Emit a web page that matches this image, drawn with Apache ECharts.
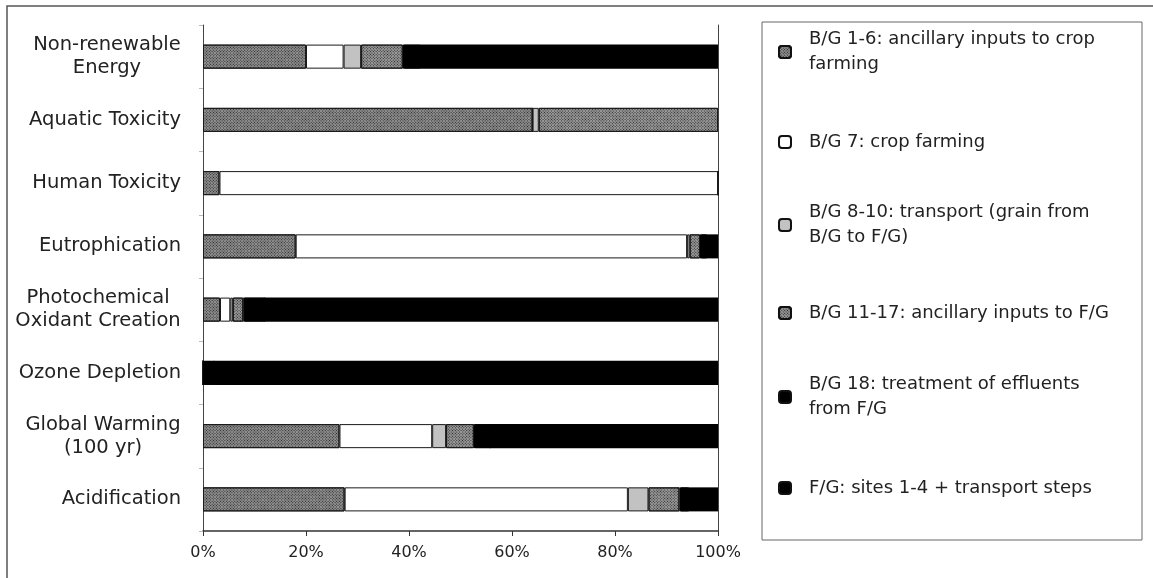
<!DOCTYPE html>
<html>
<head>
<meta charset="utf-8">
<script src="https://cdn.jsdelivr.net/npm/echarts@6/dist/echarts.min.js"></script>
<style>
html,body{margin:0;padding:0;background:#fff;}
#chart{width:1153px;height:578px;}
</style>
</head>
<body>
<div id="chart"></div>
<script>
// ---- data ----
const categories = ['Non-renewable\nEnergy', 'Aquatic Toxicity', 'Human Toxicity', 'Eutrophication',
  'Photochemical\nOxidant Creation', 'Ozone Depletion', 'Global Warming\n(100 yr)', 'Acidification'];
const seriesNames = [
  'B/G 1-6: ancillary inputs to crop\nfarming',
  'B/G 7: crop farming',
  'B/G 8-10: transport (grain from\nB/G to F/G)',
  'B/G 11-17: ancillary inputs to F/G',
  'B/G 18: treatment of effluents\nfrom F/G',
  'F/G: sites 1-4 + transport steps'
];
const bg1_6   = [20,   64,   3.2,  18,   3.3, 0,  26.5, 27.5];
const bg7     = [7.3,  0,    96.8, 76,   2,   0,  18,   55];
const bg8_10  = [3.4,  1.2,  0,    0.5,  0.5, 0,  2.7,  4];
const bg11_17 = [8.1,  34.8, 0,    2,    2,   0,  5.4,  6];
const bg18    = [3,    0,    0,    1,    4,   2,  3,    1.5];
const fg      = [58.2, 0,    0,    2.5,  88.2, 98, 44.4, 6];
const xTicks = [0, 20, 40, 60, 80, 100];
const seriesData = [bg1_6, bg7, bg8_10, bg11_17, bg18, fg];

// ---- styles ----
const FONT = '"DejaVu Sans", sans-serif';
const TXT = '#222';
const hatch = (base) => ({
  color: base,
  borderColor: '#1a1a1a',
  borderWidth: 1,
  decal: {symbol: 'rect', symbolSize: 1, dashArrayX: [1, 1], dashArrayY: [1, 1], rotation: Math.PI / 4, color: '#262626'}
});
const itemStyles = [
  hatch('#909090'),
  {color: '#ffffff', borderColor: '#1a1a1a', borderWidth: 1},
  {color: '#c2c2c2', borderColor: '#1a1a1a', borderWidth: 1},
  hatch('#9a9a9a'),
  {color: '#000000', borderWidth: 0, shadowColor: '#000', shadowBlur: 0, shadowOffsetX: 1.5},
  {color: '#000000', borderWidth: 0}
];

// measure multi-line category labels so lines are centred within a right-aligned block
const ctx = document.createElement('canvas').getContext('2d');
const LABEL_SIZE = 19.5;
ctx.font = LABEL_SIZE + 'px ' + FONT;
const rich = {s: {fontSize: LABEL_SIZE, fontFamily: FONT, color: TXT, lineHeight: 23}};
categories.forEach((c, i) => {
  const lines = c.split('\n');
  if (lines.length > 1) {
    const w = Math.max(...lines.map(l => ctx.measureText(l).width));
    rich['c' + i] = {width: Math.ceil(w), align: 'center', fontSize: LABEL_SIZE, fontFamily: FONT, color: TXT, lineHeight: 23};
  }
});

// legend: one component per entry, icon centres matched to the reference
const legendIconY = [52, 142, 225, 313, 397, 488];
const legends = seriesNames.map((n, i) => {
  const two = n.indexOf('\n') >= 0;
  return {
    data: [n],
    orient: 'vertical',
    left: 778,
    top: legendIconY[i] - (two ? 37.5 : 12.5),
    padding: 0,
    itemWidth: 12,
    itemHeight: 12,
    icon: 'roundRect',
    selectedMode: false,
    itemStyle: {borderColor: '#111', borderWidth: 2, shadowBlur: 0, shadowOffsetX: 0},
    textStyle: {fontSize: 18, fontFamily: FONT, color: TXT, lineHeight: 25,
      padding: two ? [25, 0, 0, 13] : [0, 0, 0, 13]}
  };
});

const option = {
  animation: false,
  backgroundColor: '#fff',
  textStyle: {fontFamily: FONT},
  grid: {left: 203, right: 435, top: 25, bottom: 47, containLabel: false},
  legend: legends,
  xAxis: {
    type: 'value', min: 0, max: 100, interval: 20,
    axisLine: {show: true, lineStyle: {color: '#333', width: 1.5}},
    axisTick: {show: true, length: 5, lineStyle: {color: '#333'}},
    splitLine: {show: false},
    axisLabel: {formatter: v => xTicks.includes(v) ? v + '%' : '', fontSize: 16, fontFamily: FONT, color: TXT, margin: 14}
  },
  yAxis: [{
    type: 'category', data: categories, inverse: true,
    axisLine: {show: true, lineStyle: {color: '#444', width: 1}},
    axisTick: {show: true, length: 4, lineStyle: {color: '#bbb'}},
    axisLabel: {
      margin: 22, align: 'right',
      fontSize: LABEL_SIZE, fontFamily: FONT, color: TXT, lineHeight: 23,
      formatter: (v, i) => {
        const lines = v.split('\n');
        if (lines.length === 1) return '{s|' + v + '}';
        return lines.map(l => '{c' + i + '|' + l + '}').join('\n');
      },
      rich: rich
    }
  }, {
    type: 'category', data: categories, inverse: true, position: 'right',
    axisLine: {show: true, lineStyle: {color: '#444', width: 1}},
    axisTick: {show: false}, axisLabel: {show: false}
  }],
  series: seriesNames.map((n, i) => ({
    name: n, type: 'bar', stack: 'total', barWidth: '38%',
    data: seriesData[i],
    itemStyle: itemStyles[i]
  })),
  graphic: [
    {type: 'rect', shape: {x: 7, y: 6, width: 1200, height: 700}, style: {fill: 'none', stroke: '#555', lineWidth: 1.5}, silent: true},
    {type: 'rect', shape: {x: 762, y: 22, width: 380, height: 518}, style: {fill: 'none', stroke: '#666', lineWidth: 1}, silent: true}
  ]
};

const chart = echarts.init(document.getElementById('chart'), null, {renderer: 'canvas'});
chart.setOption(option);
</script>
</body>
</html>
